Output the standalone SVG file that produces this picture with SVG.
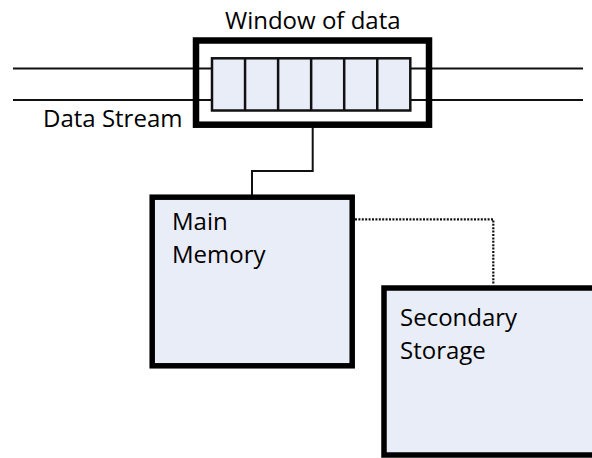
<svg xmlns="http://www.w3.org/2000/svg" width="592" height="458" viewBox="0 0 592 458">
  <style>
    .label { font-family: "Open Sans", "Liberation Sans", sans-serif; font-size: 24px; fill: #000; }
    .line { fill: none; stroke: #111; stroke-width: 2; }
    .dotted { fill: none; stroke: #111; stroke-width: 2.2; stroke-dasharray: 2 1.4; }
    .box { fill: #e9edf7; stroke: #000; stroke-width: 5.5; }
    .cell { fill: #e9edf7; stroke: #111; stroke-width: 2.5; }
  </style>
  <rect width="592" height="458" fill="#fff"/>

  <!-- connectors -->
  <g id="connectors">
    <!-- incoming stream -->
    <line class="line" x1="13" y1="68.5" x2="212" y2="68.5"/>
    <line class="line" x1="13" y1="100" x2="212" y2="100"/>
    <!-- outgoing stream -->
    <line class="line" x1="410" y1="68.5" x2="583" y2="68.5"/>
    <line class="line" x1="410" y1="100" x2="583" y2="100"/>
    <!-- window to main memory -->
    <polyline class="line" points="312.7,127 312.7,171 252,171 252,195"/>
    <!-- main memory to secondary storage -->
    <polyline class="dotted" points="355,219.3 493.3,219.3 493.3,285"/>
  </g>

  <!-- window of data over the stream -->
  <g id="window">
    <rect x="196" y="40.5" width="233" height="84.2" fill="none" stroke="#000" stroke-width="6.5"/>
    <rect class="cell" x="212" y="58.3" width="198.3" height="52.2"/>
    <g stroke="#111" stroke-width="2.5">
      <line x1="245.05" y1="58.3" x2="245.05" y2="110.5"/>
      <line x1="278.1" y1="58.3" x2="278.1" y2="110.5"/>
      <line x1="311.15" y1="58.3" x2="311.15" y2="110.5"/>
      <line x1="344.2" y1="58.3" x2="344.2" y2="110.5"/>
      <line x1="377.25" y1="58.3" x2="377.25" y2="110.5"/>
    </g>
    <text class="label" x="225" y="28.5">Window of data</text>
  </g>

  <g id="stream-label">
    <text class="label" x="43" y="127">Data Stream</text>
  </g>

  <g id="main-memory">
    <rect class="box" x="152.2" y="197.2" width="200" height="168.6"/>
    <text class="label" x="172" y="229.5">Main</text>
    <text class="label" x="172" y="263">Memory</text>
  </g>

  <!-- runs past the right edge of the page -->
  <g id="secondary-storage">
    <rect class="box" x="384" y="288" width="300" height="167"/>
    <text class="label" x="400" y="326">Secondary</text>
    <text class="label" x="400" y="359">Storage</text>
  </g>
</svg>
